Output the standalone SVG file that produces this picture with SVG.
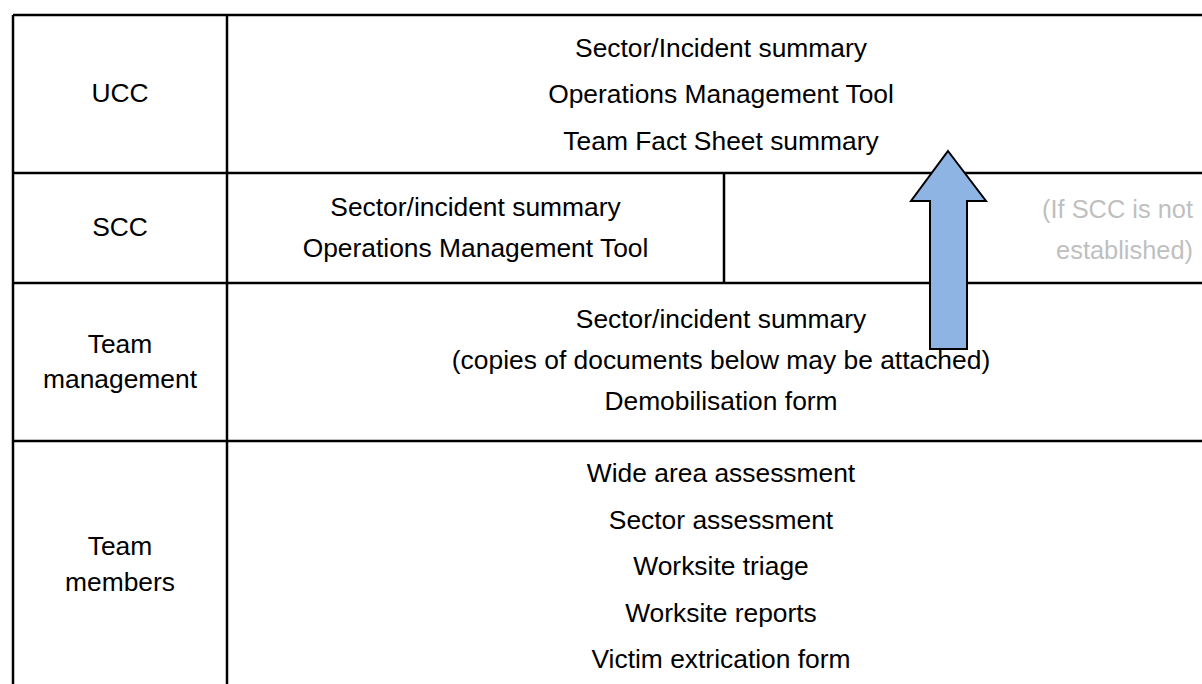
<svg xmlns="http://www.w3.org/2000/svg" width="1202" height="684" viewBox="0 0 1202 684">
<style>
.grid{stroke:#000;stroke-width:2.5;fill:none}
.t{font-family:"Liberation Sans",Arial,sans-serif;font-size:26.4px;fill:#000;text-anchor:middle}
.g{font-family:"Liberation Sans",Arial,sans-serif;font-size:25.4px;fill:#bfbfbf;text-anchor:end}
.arrow{fill:#8eb4e3;stroke:#000;stroke-width:2;stroke-linejoin:miter}
</style>
<rect width="1202" height="684" fill="#fff"/>
<g id="table-lines" class="grid">
<line x1="13" y1="15" x2="1215" y2="15"/>
<line x1="13" y1="173" x2="1215" y2="173"/>
<line x1="13" y1="283" x2="1215" y2="283"/>
<line x1="13" y1="441" x2="1215" y2="441"/>
<line x1="13" y1="15" x2="13" y2="700"/>
<line x1="227" y1="15" x2="227" y2="700"/>
<line x1="724" y1="173" x2="724" y2="283"/>
</g>
<g id="row-ucc">
<text class="t" x="120" y="102">UCC</text>
<text class="t" x="721" y="57">Sector/Incident summary</text>
<text class="t" x="721" y="103">Operations Management Tool</text>
<text class="t" x="721" y="150">Team Fact Sheet summary</text>
</g>
<g id="row-scc">
<text class="t" x="120" y="236">SCC</text>
<text class="t" x="475.5" y="216">Sector/incident summary</text>
<text class="t" x="475.5" y="257">Operations Management Tool</text>
<text class="g" x="1193" y="218">(If SCC is not</text>
<text class="g" x="1193" y="259">established)</text>
</g>
<g id="row-team-management">
<text class="t" x="120" y="353">Team</text>
<text class="t" x="120" y="388">management</text>
<text class="t" x="721" y="328">Sector/incident summary</text>
<text class="t" x="721" y="369">(copies of documents below may be attached)</text>
<text class="t" x="721" y="410">Demobilisation form</text>
</g>
<g id="row-team-members">
<text class="t" x="120" y="555">Team</text>
<text class="t" x="120" y="591">members</text>
<text class="t" x="721" y="482">Wide area assessment</text>
<text class="t" x="721" y="528.5">Sector assessment</text>
<text class="t" x="721" y="575">Worksite triage</text>
<text class="t" x="721" y="621.5">Worksite reports</text>
<text class="t" x="721" y="668">Victim extrication form</text>
</g>
<g id="connectors">
<path class="arrow" d="M948,151 L986,201 L967,201 L967,349 L930,349 L930,201 L911,201 Z"/>
</g>
</svg>
